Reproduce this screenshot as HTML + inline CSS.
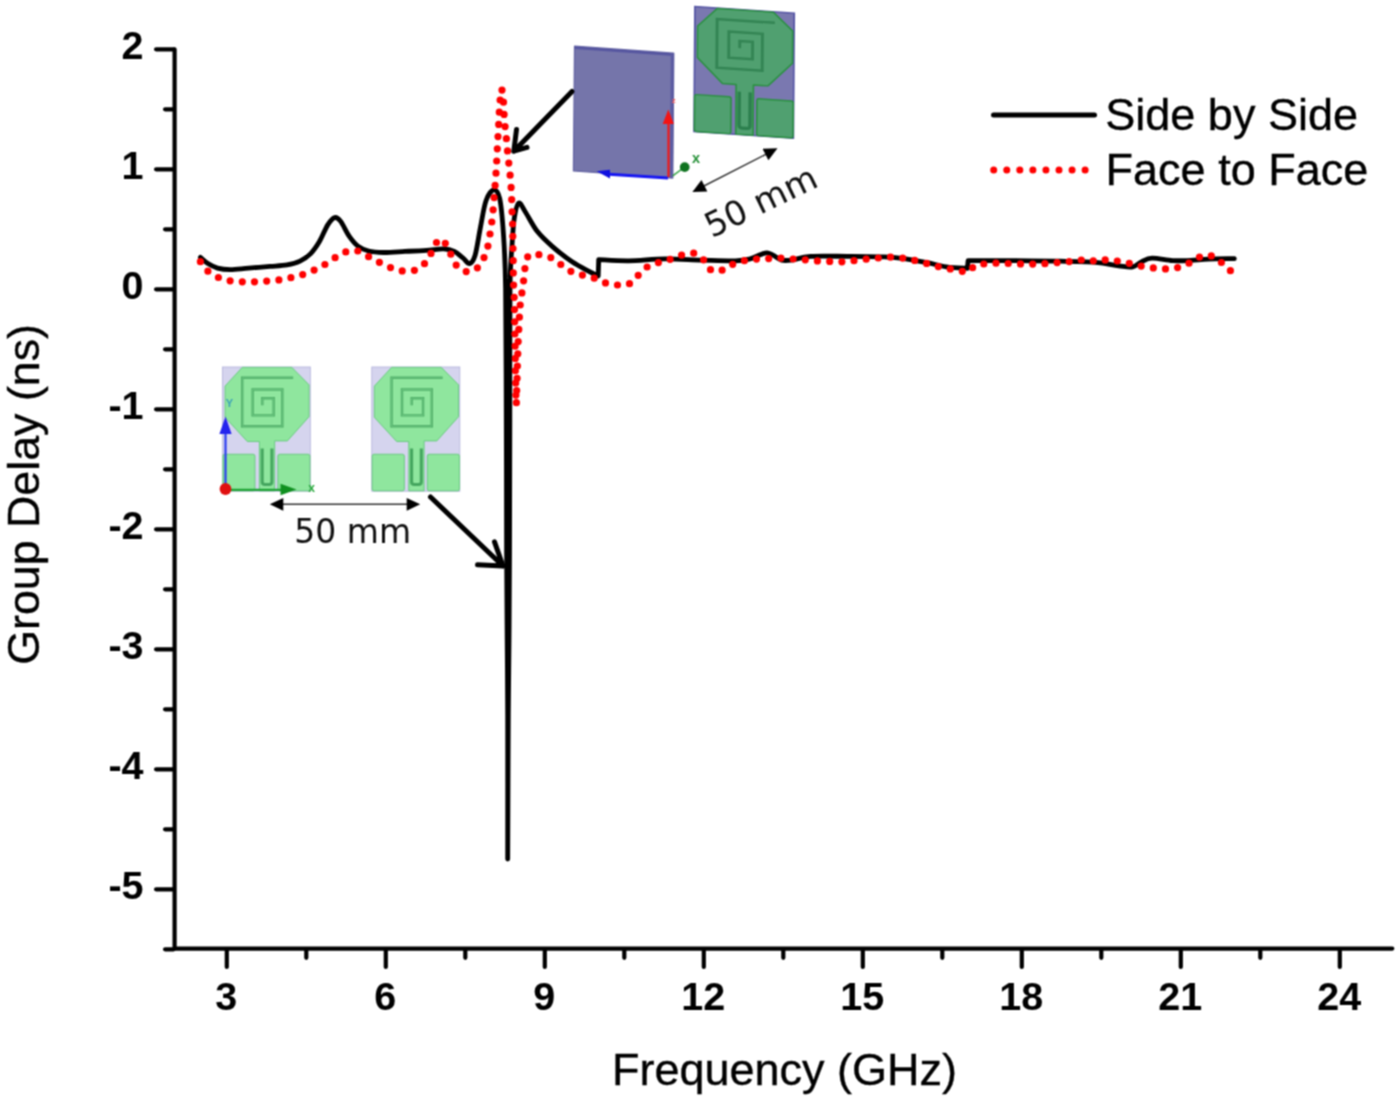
<!DOCTYPE html>
<html><head><meta charset="utf-8"><title>Group Delay</title>
<style>
html,body{margin:0;padding:0;background:#fff;}
body{width:1400px;height:1101px;overflow:hidden;}
svg{display:block;}
</style></head><body>
<svg width="1400" height="1101" viewBox="0 0 1400 1101">
<defs><filter id="soft" x="0" y="0" width="1400" height="1101" filterUnits="userSpaceOnUse" color-interpolation-filters="sRGB"><feConvolveMatrix order="3" kernelMatrix="1 2 1 2 4 2 1 2 1" divisor="16" edgeMode="duplicate" preserveAlpha="true"/></filter></defs>
<g filter="url(#soft)">
<rect width="1400" height="1101" fill="#fff"/>
<g id="insets">
<g transform="translate(222.50 367.00) scale(0.12725 0.12738)">
<rect x="0" y="0" width="690" height="975" fill="#d5d4ee" stroke="#b4b4dc" stroke-width="7"/>
<path d="M155 3 H545 L680 140 V390 L510 580 H410 V972 H290 V585 H195 L20 395 V150 Z" fill="#8fe69e" stroke="#62c878" stroke-width="7" stroke-linejoin="round"/>
<rect x="3" y="685" width="252" height="287" rx="14" fill="#8fe69e" stroke="#62c878" stroke-width="7"/>
<rect x="435" y="685" width="252" height="287" rx="14" fill="#8fe69e" stroke="#62c878" stroke-width="7"/>
<path d="M555 85 H155 V465 H470 V177 H237 V380 H402 V245 H313 V300" fill="none" stroke="#45a65f" stroke-width="19"/>
<path d="M555 85 H155 V465 H470 V177 H237 V380 H402 V245 H313 V300" fill="none" stroke="#80d692" stroke-width="6"/>
<path d="M312 640 V900 Q312 922 334 922 H366 Q388 922 388 900 V640" fill="none" stroke="#45a65f" stroke-width="24"/>
</g>
<g transform="translate(371.80 367.00) scale(0.12754 0.12738)">
<rect x="0" y="0" width="690" height="975" fill="#d5d4ee" stroke="#b4b4dc" stroke-width="7"/>
<path d="M155 3 H545 L680 140 V390 L510 580 H410 V972 H290 V585 H195 L20 395 V150 Z" fill="#8fe69e" stroke="#62c878" stroke-width="7" stroke-linejoin="round"/>
<rect x="3" y="685" width="252" height="287" rx="14" fill="#8fe69e" stroke="#62c878" stroke-width="7"/>
<rect x="435" y="685" width="252" height="287" rx="14" fill="#8fe69e" stroke="#62c878" stroke-width="7"/>
<path d="M555 85 H155 V465 H470 V177 H237 V380 H402 V245 H313 V300" fill="none" stroke="#45a65f" stroke-width="19"/>
<path d="M555 85 H155 V465 H470 V177 H237 V380 H402 V245 H313 V300" fill="none" stroke="#80d692" stroke-width="6"/>
<path d="M312 640 V900 Q312 922 334 922 H366 Q388 922 388 900 V640" fill="none" stroke="#45a65f" stroke-width="24"/>
</g>
<path d="M225.5 488 V428" stroke="#2a3cf0" stroke-width="2.2" fill="none"/>
<path d="M225.5 416.5 L231.6 434 L219.4 434 Z" fill="#2424ee"/>
<path d="M226 489.8 H290" stroke="#1fa336" stroke-width="2.2" fill="none"/>
<path d="M296.5 489.5 L280.5 483.8 L280.5 495.3 Z" fill="#109020"/>
<circle cx="225.5" cy="489" r="5.9" fill="#e01010"/>
<text x="311.5" y="491.5" font-family="'Liberation Sans',sans-serif" font-weight="bold" font-size="12" fill="#27a83b" text-anchor="middle">x</text>
<text x="229.3" y="406.5" font-family="'Liberation Sans',sans-serif" font-weight="bold" font-size="11" fill="#3aa0b8" text-anchor="middle">Y</text>
<path d="M280 504.3 H410" stroke="#333" stroke-width="1.6"/>
<path d="M269.8 504.3 L283.3 497.9 L283.3 510.7 Z M420.2 504.3 L406.7 497.9 L406.7 510.7 Z" fill="#000"/>
<text x="352.7" y="542.9" font-family="'DejaVu Sans',sans-serif" font-size="33" fill="#111" text-anchor="middle">50 mm</text>
<path d="M574.6 46.3 L673.7 53.3 L672.7 178 L573.5 170.9 Z" fill="#7575aa" stroke="#6666a4" stroke-width="1.4" stroke-linejoin="round"/>
<path d="M574.6 46.3 L673.7 53.3 L673.7 56 L574.6 49 Z" fill="#5656a0"/>
<path d="M670.8 53.2 L673.9 53.4 L672.9 178 L669.8 177.8 Z" fill="#5c5ca2"/>
<path d="M609 174.2 L668 178" stroke="#1616f2" stroke-width="3"/>
<path d="M596.7 171.3 L610 169.8 L610 178.5 Z" fill="#1010e0"/>
<path d="M668.5 177 L668.5 122" stroke="#f01818" stroke-width="2.2"/>
<path d="M668.3 109.4 L673.9 124 L662.7 124 Z" fill="#f41414"/>
<text x="673.8" y="103" font-family="'Liberation Sans',sans-serif" font-weight="bold" font-size="8" fill="#f46060" text-anchor="middle">z</text>
<path d="M672.7 175.8 L684 167.5" stroke="#30a040" stroke-width="1.5"/>
<circle cx="684.7" cy="167.1" r="4.9" fill="#0f7320"/>
<text x="696" y="163.3" font-family="'Liberation Sans',sans-serif" font-weight="bold" font-size="14.5" fill="#238f35" text-anchor="middle">x</text>
<g transform="matrix(0.144058 0.009565 -0.000923 0.128308 694.9 6.6)">
<rect x="0" y="0" width="690" height="975" fill="#7a78b0" stroke="#5050a2" stroke-width="11"/>
<path d="M155 3 H545 L680 140 V390 L510 580 H410 V972 H290 V585 H195 L20 395 V150 Z" fill="#50a070" stroke="#2a9040" stroke-width="11" stroke-linejoin="round"/>
<rect x="3" y="685" width="252" height="287" rx="14" fill="#50a070" stroke="#2a9040" stroke-width="11"/>
<rect x="435" y="685" width="252" height="287" rx="14" fill="#50a070" stroke="#2a9040" stroke-width="11"/>
<path d="M555 85 H155 V465 H470 V177 H237 V380 H402 V245 H313 V300" fill="none" stroke="#2c7f4e" stroke-width="19"/>
<path d="M555 85 H155 V465 H470 V177 H237 V380 H402 V245 H313 V300" fill="none" stroke="#3d8c5c" stroke-width="6"/>
<path d="M312 640 V900 Q312 922 334 922 H366 Q388 922 388 900 V640" fill="none" stroke="#2c7f4e" stroke-width="24"/>
</g>
<path d="M700 188 L770 152.2" stroke="#333" stroke-width="1.5"/>
<g transform="translate(692.4 191.9) rotate(-27.13)"><path d="M0 0 L13.5 -6.4 L13.5 6.4 Z" fill="#000"/></g>
<g transform="translate(777.5 148.3) rotate(-27.13)"><path d="M0 0 L-13.5 -6.4 L-13.5 6.4 Z" fill="#000"/></g>
<text transform="translate(765.8 212) rotate(-25.8)" font-family="'DejaVu Sans',sans-serif" font-size="34" fill="#111" text-anchor="middle">50 mm</text>
</g>
<g id="main">
<g stroke="#000" stroke-width="4.2" stroke-linecap="round" fill="none">
<path d="M174.6 49.3 V948.6 H1392.3"/>
<path d="M156.1 49.3 H173.6"/>
<path d="M165.1 109.3 H173.6"/>
<path d="M156.1 169.3 H173.6"/>
<path d="M165.1 229.3 H173.6"/>
<path d="M156.1 289.3 H173.6"/>
<path d="M165.1 349.3 H173.6"/>
<path d="M156.1 409.3 H173.6"/>
<path d="M165.1 469.3 H173.6"/>
<path d="M156.1 529.3 H173.6"/>
<path d="M165.1 589.3 H173.6"/>
<path d="M156.1 649.3 H173.6"/>
<path d="M165.1 709.3 H173.6"/>
<path d="M156.1 769.3 H173.6"/>
<path d="M165.1 829.3 H173.6"/>
<path d="M156.1 889.3 H173.6"/>
<path d="M165.1 949.3 H173.6"/>
<path d="M226.8 949.6 V967"/>
<path d="M306.3 949.6 V957.8"/>
<path d="M385.8 949.6 V967"/>
<path d="M465.3 949.6 V957.8"/>
<path d="M544.8 949.6 V967"/>
<path d="M624.3 949.6 V957.8"/>
<path d="M703.8 949.6 V967"/>
<path d="M783.3 949.6 V957.8"/>
<path d="M862.8 949.6 V967"/>
<path d="M942.3 949.6 V957.8"/>
<path d="M1021.8 949.6 V967"/>
<path d="M1101.3 949.6 V957.8"/>
<path d="M1180.8 949.6 V967"/>
<path d="M1260.3 949.6 V957.8"/>
<path d="M1339.8 949.6 V967"/>
</g>
<g font-family="'Liberation Sans', Arial, sans-serif" font-weight="bold" font-size="39.5" fill="#000">
<text x="143.5" y="59.2" text-anchor="end">2</text>
<text x="143.5" y="179.2" text-anchor="end">1</text>
<text x="143.5" y="299.2" text-anchor="end">0</text>
<text x="143.5" y="419.2" text-anchor="end">-1</text>
<text x="143.5" y="539.2" text-anchor="end">-2</text>
<text x="143.5" y="659.2" text-anchor="end">-3</text>
<text x="143.5" y="779.2" text-anchor="end">-4</text>
<text x="143.5" y="899.2" text-anchor="end">-5</text>
<text x="226.3" y="1010.1" text-anchor="middle">3</text>
<text x="385.3" y="1010.1" text-anchor="middle">6</text>
<text x="544.3" y="1010.1" text-anchor="middle">9</text>
<text x="703.3" y="1010.1" text-anchor="middle">12</text>
<text x="862.3" y="1010.1" text-anchor="middle">15</text>
<text x="1021.3" y="1010.1" text-anchor="middle">18</text>
<text x="1180.3" y="1010.1" text-anchor="middle">21</text>
<text x="1339.3" y="1010.1" text-anchor="middle">24</text>
</g>
<g font-family="'Liberation Sans', Arial, sans-serif" font-size="45" fill="#000" stroke="#000" stroke-width="0.35">
<text x="784.5" y="1084.8" text-anchor="middle">Frequency (GHz)</text>
<text transform="translate(39.4 494.4) rotate(-90)" text-anchor="middle" font-size="44.75">Group Delay (ns)</text>
<text x="1105.3" y="130.3">Side by Side</text>
<text x="1105.6" y="184.8">Face to Face</text>
</g>
<path d="M993.5 115 H1094.5" stroke="#000" stroke-width="5" stroke-linecap="round"/>
<path d="M993.7 170 H1086" stroke="#ff0000" stroke-width="7" stroke-linecap="round" stroke-dasharray="0 13.06"/>
<path d="M200.4 257.4 C201.7 258.4 205.1 261.8 207.9 263.6 C210.8 265.4 213.8 267.1 217.5 268.1 C221.2 269.1 225.2 269.6 230.4 269.6 C235.6 269.6 242.0 268.6 248.6 268.1 C255.2 267.6 263.6 266.9 270.0 266.4 C276.4 265.9 282.1 265.8 287.1 264.9 C292.1 264.0 296.1 263.0 300.0 261.1 C303.9 259.2 307.5 256.8 310.7 253.6 C313.9 250.4 316.4 246.6 319.3 241.8 C322.2 237.0 325.3 228.6 327.9 224.6 C330.5 220.6 332.6 218.1 334.7 217.6 C336.8 217.1 338.3 218.3 340.7 221.4 C343.1 224.5 346.4 232.3 349.3 236.4 C352.2 240.5 354.7 243.7 357.9 246.1 C361.1 248.5 364.3 249.9 368.6 251.0 C372.9 252.1 377.5 252.4 383.6 252.5 C389.7 252.6 397.9 251.8 405.0 251.4 C412.1 251.1 420.0 250.8 426.4 250.4 C432.8 250.0 439.0 248.7 443.6 248.9 C448.2 249.1 451.1 249.9 454.3 251.4 C457.5 252.9 460.3 255.9 462.9 257.9 C465.4 259.9 467.6 264.0 469.6 263.6 C471.6 263.2 473.3 261.4 475.1 255.3 C476.9 249.2 478.7 236.1 480.5 227.0 C482.3 217.9 483.8 207.0 486.0 200.8 C488.2 194.6 491.3 190.3 493.6 189.9 C495.9 189.5 498.1 191.3 499.7 198.6 C501.3 205.9 502.4 218.6 503.4 233.5 C504.4 248.4 505.1 256.9 505.6 288.0 C506.1 319.1 506.1 376.0 506.3 420.0 C506.5 464.0 506.5 515.3 506.6 552.0 C506.8 588.7 507.0 612.8 507.2 640.0 C507.4 667.2 507.6 678.5 507.7 715.0 C507.8 751.5 507.7 835.0 507.7 859.0 L507.7 859.0 C507.8 835.0 508.1 751.5 508.3 715.0 C508.5 678.5 508.8 667.2 509.0 640.0 C509.2 612.8 509.4 588.7 509.5 552.0 C509.6 515.3 509.7 464.0 509.8 420.0 C509.9 376.0 509.6 317.3 510.0 288.0 C510.4 258.7 511.4 256.0 512.1 244.4 C512.8 232.8 513.2 225.1 514.3 218.2 C515.4 211.3 516.9 204.1 518.7 203.0 C520.5 201.9 522.1 207.0 525.2 211.7 C528.3 216.4 532.7 225.5 537.2 231.3 C541.8 237.1 546.7 241.5 552.5 246.6 C558.3 251.7 565.9 257.6 572.1 261.8 C578.3 266.0 585.1 269.2 589.5 271.6 C593.9 274.0 596.8 275.3 598.2 276.0 L598.7 259.6 C603.7 259.8 617.6 260.9 628.6 260.8 C639.6 260.7 652.9 259.0 665.0 258.9 C677.1 258.8 689.7 259.8 701.4 260.1 C713.1 260.4 727.3 261.0 735.4 260.8 C743.5 260.6 745.8 259.9 750.0 258.9 C754.2 257.8 758.1 255.5 760.9 254.5 C763.7 253.5 765.0 252.7 767.0 252.8 C769.0 252.9 770.6 254.0 773.0 255.2 C775.4 256.4 778.6 259.3 781.6 260.1 C784.6 260.9 786.4 260.7 791.3 260.1 C796.1 259.5 801.4 257.0 810.7 256.4 C820.0 255.8 835.0 256.3 847.1 256.4 C859.2 256.5 874.7 256.6 883.5 256.9 C892.3 257.2 893.0 257.2 900.0 258.1 C907.0 259.0 918.0 260.9 925.7 262.4 C933.4 263.8 939.3 265.8 946.3 266.8 C953.2 267.8 963.9 268.1 967.4 268.3 L968.1 260.6 C973.9 260.6 988.5 260.5 1002.9 260.6 C1017.3 260.7 1038.9 260.8 1054.3 261.1 C1069.7 261.4 1084.7 261.6 1095.4 262.4 C1106.1 263.2 1112.4 265.1 1118.6 265.8 C1124.8 266.5 1128.8 267.5 1132.7 266.8 C1136.6 266.1 1138.5 263.1 1141.7 261.7 C1144.9 260.2 1146.8 258.3 1152.0 258.1 C1157.2 257.9 1166.2 260.2 1172.6 260.6 C1179.0 261.0 1184.6 260.6 1190.6 260.4 C1196.6 260.1 1201.3 259.4 1208.6 259.1 C1215.9 258.8 1230.0 258.7 1234.3 258.6" fill="none" stroke="#000" stroke-width="4.8" stroke-linejoin="round" stroke-linecap="round"/>
<path d="M200.4 261.7h0 M207.9 271.2h0 M218.4 277.5h0 M230.1 280.8h0 M242.3 281.8h0 M254.5 281.8h0 M266.7 281.1h0 M278.9 279.9h0 M290.9 277.7h0 M302.7 274.6h0 M314.1 270.1h0 M324.9 264.5h0 M335.1 257.7h0 M345.8 251.9h0 M357.8 251.0h0 M368.6 256.7h0 M379.4 262.3h0 M390.5 267.6h0 M402.2 270.9h0 M414.4 270.3h0 M424.5 263.7h0 M431.0 253.4h0 M436.5 242.5h0 M445.3 243.3h0 M450.8 254.2h0 M456.2 265.1h0 M466.2 271.6h0 M477.4 267.8h0 M484.0 257.6h0 M487.9 246.1h0 M490.0 234.0h0 M491.8 222.0h0 M493.1 209.8h0 M494.1 197.6h0 M495.1 185.4h0 M496.0 173.2h0 M496.7 161.0h0 M497.3 148.8h0 M498.0 136.6h0 M498.7 124.4h0 M499.3 112.2h0 M500.1 100.0h0 M502.0 90.1h0 M503.5 102.2h0 M504.1 114.4h0 M505.1 126.6h0 M506.4 138.7h0 M507.5 150.9h0 M508.8 163.1h0 M510.1 175.2h0 M511.1 187.4h0 M511.7 199.6h0 M512.1 211.8h0 M512.6 224.0h0 M512.8 236.3h0 M513.0 248.5h0 M513.2 260.7h0 M513.3 272.9h0 M513.6 285.1h0 M514.2 297.3h0 M514.5 309.6h0 M514.7 321.8h0 M514.9 334.0h0 M515.1 346.2h0 M515.3 358.4h0 M515.4 370.7h0 M515.7 382.9h0 M515.9 395.1h0 M516.4 402.7h0 M516.7 390.5h0 M517.1 378.3h0 M517.4 366.0h0 M517.8 353.8h0 M518.2 341.6h0 M518.8 329.4h0 M519.4 317.2h0 M520.2 305.0h0 M521.9 292.9h0 M523.6 280.8h0 M524.9 268.6h0 M527.7 256.8h0 M538.9 254.7h0 M550.8 257.6h0 M560.8 264.5h0 M570.9 271.3h0 M582.4 275.1h0 M594.2 278.2h0 M605.5 282.9h0 M617.5 285.0h0 M629.5 283.7h0 M638.2 275.3h0 M647.1 267.0h0 M658.4 262.6h0 M670.1 259.3h0 M681.6 255.2h0 M693.7 253.2h0 M703.6 259.8h0 M710.5 269.7h0 M722.1 270.2h0 M732.7 264.3h0 M744.4 260.7h0 M756.5 259.1h0 M768.7 258.6h0 M780.9 258.1h0 M793.1 259.0h0 M805.3 259.8h0 M817.4 260.9h0 M829.7 261.4h0 M841.9 261.8h0 M854.0 260.7h0 M866.2 259.2h0 M878.3 258.0h0 M890.5 257.2h0 M902.7 258.1h0 M914.7 260.4h0 M926.6 263.4h0 M938.3 266.6h0 M950.3 268.9h0 M962.3 271.3h0 M972.6 267.7h0 M983.8 264.0h0 M996.0 263.2h0 M1008.2 263.5h0 M1020.5 263.9h0 M1032.7 264.1h0 M1044.9 263.7h0 M1057.1 262.6h0 M1069.2 261.6h0 M1081.3 260.0h0 M1093.3 260.8h0 M1105.2 259.9h0 M1117.3 261.0h0 M1129.3 263.3h0 M1141.2 266.1h0 M1153.3 267.9h0 M1165.5 268.9h0 M1177.6 267.6h0 M1189.0 263.2h0 M1199.5 257.1h0 M1211.3 255.9h0 M1221.4 262.5h0 M1230.4 270.7h0" fill="none" stroke="#ff0000" stroke-width="7.2" stroke-linecap="round"/>
<g stroke="#000" stroke-width="5" stroke-linecap="round" stroke-linejoin="round" fill="none">
<path d="M572 91.5 L513.8 151.2 M516.5 129.5 L513.8 151.2 L527 147.4"/>
<path d="M430.5 497 L503 566 M494.5 541.8 L503 566 L477.5 564.8"/>
</g>
</g>
</g>
</svg>
</body></html>
